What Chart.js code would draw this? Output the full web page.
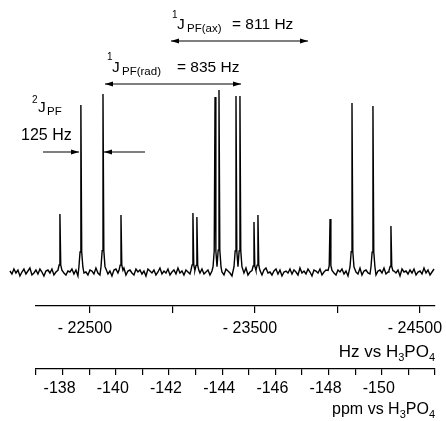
<!DOCTYPE html>
<html lang="en">
<head>
  <meta charset="UTF-8" />
  <title>31P NMR spectrum</title>
  <script src="https://cdn.jsdelivr.net/npm/chart.js"></script>
  <style>
    body {
      margin: 0;
      background: #fff;
    }
    .wrap {
      width: 446px;
      height: 421px;
      position: relative;
    }
  </style>
</head>
<body>

<div class="wrap">
  <canvas id="nmrChart"></canvas>
</div>

<script>
  // axis ticks
  const HZ_TICKS = [-22500, -23000, -23500, -24000, -24500];
  const HZ_LABELS = ['- 22500', '', '- 23500', '', '- 24500'];
  const PPM_TICKS = [-137, -138, -139, -140, -141, -142, -143, -144, -145, -146, -147, -148, -149, -150, -151, -152];
  const PPM_LABELS = ['', '-138', '', '-140', '', '-142', '', '-144', '', '-146', '', '-148', '', '-150', '', ''];

  // peak positions (Hz) and heights
  const PEAK_HZ = [-22318, -22445, -22579, -22688, -23124, -23148, -23258, -23282,
                   -23385, -23409, -23494, -23518, -23955, -24088, -24215, -24324];
  const PEAK_HEIGHT = [58, 167, 178, 57, 59, 55, 175, 182, 176, 176, 50, 57, 53, 169, 166, 46];

  // baseline noise, sampled evenly from the left to the right end of the trace
  const NOISE_START_HZ = -22015;
  const NOISE_END_HZ = -24585;
  const NOISE = [1, -2, 3, -1, 2, -4, 0, 3, -2, 1, 4, -3, -1, 2, -2, 3, 0, -4, 1, 2,
                 -1, 3, -3, 0, 2, -2, 4, -1, -3, 1, 0, 3, -2, 2, -4, 1, 3, -1, 0, -3,
                 2, 1, -2, 4, -1, -3, 2, 0, 3, -2, 1, -4, 2, 3, -1, 0, -2, 4, -3, 1,
                 2, -1, -3, 3, 0, 2, -2, 1, -4, 3, 1, -1, 2, -3, 0, 4, -2, 1, -1, 3,
                 -3, 0, 2, -2, 4, -1, 1, -3, 2, 0, -2, 3, -4, 1, 2, -1, 3, -2, 0, 2,
                 -3, 1, 4, -1, -2, 2, 0, -3, 3, 1, -1, -4, 2, 0, 3, -2, 1, -1, 4, -3,
                 0, 2, -1, 3, -2, 1, -3, 2, 4, -1, 0, -3, 1, 3, -2, 2, -4, 0, 1, -1,
                 3, -2, 2, 0, -3, 4, -1, 1, -2, 3, 0, -4, 2, 1, -1, 3, -3, 0, 2, -2,
                 1, 4, -1, -3, 2, 0, 3, -2, 1, -4, 2, -1, 3, 0, -2, 4, -3, 1, 2, -1,
                 -2, 3, 0, -3, 1, 2, -1, 4, -2, 0, 3, -3, 1, -1, 2, -4, 3, 0, 1, -2,
                 2, -1, 3, -3, 0, 1, -2, 4, -1, 2, -3, 0, 3];

  // line shape drawn round each peak: offsets in Hz and fraction of the peak height
  const SHAPE_OFFSET = [12, 5, 0, -5, -12];
  const SHAPE_FRACTION = [0.03, 0.12, 1, 0.12, 0.03];

  const points = [];
  NOISE.forEach((n, i) => {
    const x = NOISE_START_HZ + (NOISE_END_HZ - NOISE_START_HZ) * i / (NOISE.length - 1);
    if (PEAK_HZ.every(p => Math.abs(p - x) > 14)) points.push({ x: x, y: n });
  });
  PEAK_HZ.forEach((p, i) => {
    SHAPE_OFFSET.forEach((o, k) => {
      points.push({ x: p + o, y: PEAK_HEIGHT[i] * SHAPE_FRACTION[k] });
    });
  });
  points.sort((a, b) => b.x - a.x);

  const FONT = '"Liberation Sans", Arial, Helvetica, sans-serif';
  Chart.defaults.font.family = FONT;
  Chart.defaults.color = '#000';

  function arrowHead(ctx, x, y, dir) {
    ctx.beginPath();
    ctx.moveTo(x, y);
    ctx.lineTo(x - dir * 8, y - 2.5);
    ctx.lineTo(x - dir * 8, y + 2.5);
    ctx.closePath();
    ctx.fill();
  }
  function line(ctx, x1, x2, y) {
    ctx.beginPath();
    ctx.moveTo(x1, y);
    ctx.lineTo(x2, y);
    ctx.stroke();
  }
  function txt(ctx, s, x, y, size) {
    ctx.font = size + 'px ' + FONT;
    ctx.fillText(s, x, y);
  }
  // right-aligned text made of runs [text, size, dy]
  function runsRight(ctx, runs, right, y) {
    let w = 0;
    runs.forEach(r => { ctx.font = r[1] + 'px ' + FONT; w += ctx.measureText(r[0]).width; });
    let x = right - w;
    runs.forEach(r => {
      ctx.font = r[1] + 'px ' + FONT;
      ctx.fillText(r[0], x, y + r[2]);
      x += ctx.measureText(r[0]).width;
    });
  }

  const labelsPlugin = {
    id: 'jLabels',
    afterDraw(chart) {
      const ctx = chart.ctx;
      ctx.save();
      ctx.fillStyle = '#000';
      ctx.strokeStyle = '#000';
      ctx.lineWidth = 1.2;
      ctx.textBaseline = 'alphabetic';
      ctx.textAlign = 'left';

      // 1J PF(ax)
      txt(ctx, '1', 172, 18, 10);
      txt(ctx, 'J', 177, 29, 15.5);
      txt(ctx, 'PF(ax)', 187, 32, 11.5);
      txt(ctx, '= 811 Hz', 232, 29, 15.5);
      line(ctx, 171, 308, 41);
      arrowHead(ctx, 171, 41, -1);
      arrowHead(ctx, 308, 41, 1);

      // 1J PF(rad)
      txt(ctx, '1', 107, 60, 10);
      txt(ctx, 'J', 112, 72, 15.5);
      txt(ctx, 'PF(rad)', 122, 75, 11.5);
      txt(ctx, '= 835 Hz', 177, 72, 15.5);
      line(ctx, 105, 241, 84);
      arrowHead(ctx, 105, 84, -1);
      arrowHead(ctx, 241, 84, 1);

      // 2J PF
      txt(ctx, '2', 32, 103, 10);
      txt(ctx, 'J', 38, 112, 15.5);
      txt(ctx, 'PF', 47, 115, 11.5);
      txt(ctx, '125 Hz', 21, 140, 16);
      line(ctx, 43, 79, 152);
      arrowHead(ctx, 79, 152, 1);
      line(ctx, 145, 104, 152);
      arrowHead(ctx, 104, 152, -1);

      // axis titles
      const hz = chart.scales.x, ppm = chart.scales.ppm;
      runsRight(ctx, [['Hz vs H', 17, 0], ['3', 11, 4], ['PO', 17, 0], ['4', 11, 4]], hz.right, hz.top + 51);
      runsRight(ctx, [['ppm vs H', 16, 0], ['3', 11, 4], ['PO', 16, 0], ['4', 11, 4]], ppm.right, ppm.top + 45);

      ctx.restore();
    }
  };

  new Chart(document.getElementById('nmrChart'), {
    type: 'line',
    data: {
      datasets: [{
        data: points,
        borderColor: '#000',
        borderWidth: 1.4,
        pointRadius: 0,
        tension: 0,
        clip: false
      }]
    },
    options: {
      responsive: true,
      maintainAspectRatio: false,
      animation: false,
      layout: { padding: { top: 0, left: 36, right: 11, bottom: 0 } },
      plugins: {
        legend: { display: false },
        tooltip: { enabled: false }
      },
      scales: {
        y: {
          display: false,
          min: -34,
          max: 272
        },
        x: {
          type: 'linear',
          position: 'bottom',
          reverse: true,
          min: -24591,
          max: -22173,
          afterBuildTicks: s => { s.ticks = HZ_TICKS.map(v => ({ value: v })); },
          afterFit: s => { s.height = 63; s.paddingLeft = 0; s.paddingRight = 0; },
          grid: { drawOnChartArea: false, tickLength: 7, color: '#000', lineWidth: 1.2 },
          border: { display: true, color: '#000', width: 1.3 },
          ticks: {
            autoSkip: false,
            maxRotation: 0,
            padding: 6,
            labelOffset: -5,
            font: { size: 16 },
            callback: (v, i) => HZ_LABELS[i]
          }
        },
        ppm: {
          type: 'linear',
          position: 'bottom',
          reverse: true,
          min: -152,
          max: -137,
          afterBuildTicks: s => { s.ticks = PPM_TICKS.map(v => ({ value: v })); },
          afterFit: s => { s.height = 52; s.paddingLeft = 0; s.paddingRight = 0; },
          grid: { drawOnChartArea: false, tickLength: 6, color: '#000', lineWidth: 1.2 },
          border: { display: true, color: '#000', width: 1.3 },
          ticks: {
            autoSkip: false,
            maxRotation: 0,
            padding: 4,
            labelOffset: -3,
            font: { size: 16 },
            callback: (v, i) => PPM_LABELS[i]
          }
        }
      }
    },
    plugins: [labelsPlugin]
  });
</script>

</body>
</html>
